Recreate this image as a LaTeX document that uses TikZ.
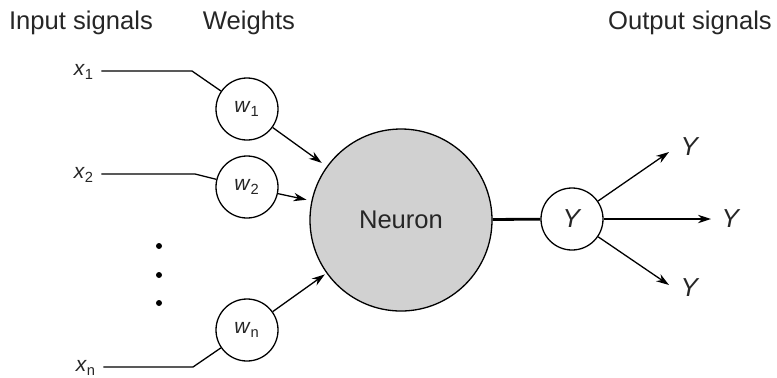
\documentclass[tikz,border=0pt]{standalone}
\usepackage{fontspec}
\setmainfont{Liberation Sans}
\usetikzlibrary{arrows.meta}
\newcommand{\lbl}[2]{\textit{#1}\textsubscript{\upshape #2}}
\begin{document}
\begin{tikzpicture}[x=0.5pt, y=-0.5pt, line width=0.65pt,
  every node/.style={text=black!85, font=\fontsize{10.5}{12}\selectfont},
  head/.style={font=\fontsize{12.8}{15}\selectfont},
  weight/.style={circle, draw, fill=white, minimum size=31pt, inner sep=0pt},
  arrow/.style={-{Stealth[length=6.5pt, width=4.2pt]}}]
  \useasboundingbox (0,0) rectangle (777,377);
  % headings
  \node[head] (inhead) at (81,23) {Input signals};
  \node[head] (wthead) at (249,23) {Weights};
  \node[head] (outhead) at (690,23) {Output signals};
  % inputs and weights
  \node (x1) at (84,72) {\lbl{x}{1}};
  \node (x2) at (84,175) {\lbl{x}{2}};
  \node (xn) at (86,368) {\lbl{x}{n}};
  \node[weight] (w1) at (247,109) {\lbl{w}{1}};
  \node[weight] (w2) at (247,187) {\lbl{w}{2}};
  \node[weight] (wn) at (247,330) {\lbl{w}{n}};
  \coordinate (b1) at (192,71);
  \coordinate (b2) at (195,174);
  \coordinate (bn) at (193,367);
  \draw (x1.east |- b1) -- (b1) -- (w1);
  \draw (x2.east |- b2) -- (b2) -- (w2);
  \draw (xn.east |- bn) -- (bn) -- (wn);
  \foreach \y in {246,275,303} \fill (159,\y) circle (1.5pt);
  % neuron and output
  \node[circle, draw, fill=black!18, minimum size=91pt, font=\fontsize{12.8}{15}\selectfont] (neuron) at (401,220) {Neuron};
  \node[weight, font=\fontsize{13}{15}\selectfont] (out) at (572,219) {\textit{Y}};
  \draw[arrow, shorten >=3pt] (w1) -- (neuron);
  \draw[arrow, shorten >=2.5pt] (w2) -- (neuron);
  \draw[arrow, shorten >=1pt] (wn) -- (neuron);
  \draw[line width=1.4pt] (neuron) -- (out);
  \node[font=\fontsize{13}{15}\selectfont] (y1) at (690,147) {\textit{Y}};
  \node[font=\fontsize{13}{15}\selectfont] (y2) at (731,219) {\textit{Y}};
  \node[font=\fontsize{13}{15}\selectfont] (y3) at (690,288) {\textit{Y}};
  \coordinate (t1) at (669,152);
  \coordinate (t2) at (711,219);
  \coordinate (t3) at (669,285);
  \draw[arrow] (out) -- (t1);
  \draw[arrow] (out) -- (t2);
  \draw[arrow] (out) -- (t3);
\end{tikzpicture}
\end{document}
